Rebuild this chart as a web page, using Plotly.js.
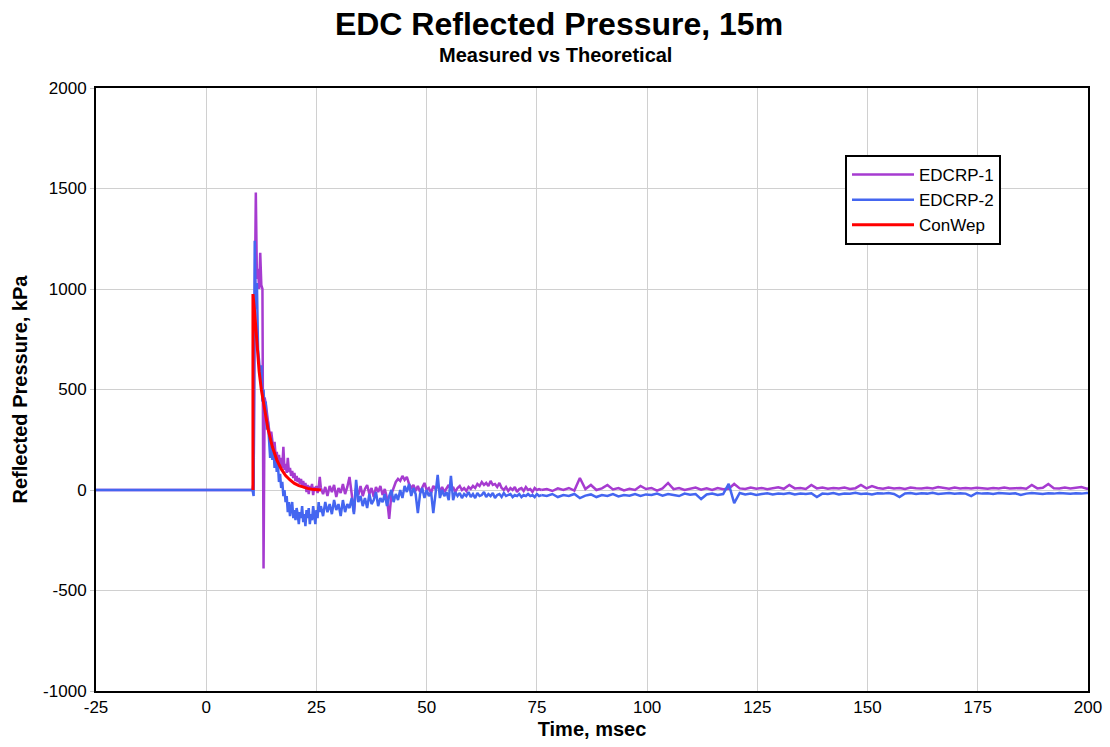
<!DOCTYPE html>
<html>
<head>
<meta charset="utf-8">
<script src="https://cdn.plot.ly/plotly-3.0.1.min.js"></script>
<style>html,body{margin:0;padding:0;background:#fff;}#chart{width:1110px;height:747px;}</style>
</head>
<body>
<div id="chart"></div>
<script>
// ---- Data ----
// Pre-arrival baseline (both gauges)
const preTime = [-25, 10.5];
const preValue = [0, 0];

// Sampling of the measured segments: start time (ms) and step (ms)
const earlyStart = 10.5, earlyStep = 0.25;   // 10.5 .. 26 ms
const midStart = 26, midStep = 0.5;          // 26 .. 76 ms
const lateStart = 76, lateStep = 1.25;       // 76 .. 201 ms

// EDCRP-1 (kPa)
const edcrp1Early = [0,40,900,1480,1050,1100,1000,1180,1020,1000,-390,460,430,380,360,300,
  260,290,230,200,240,170,190,140,175,120,160,110,215,100,130,85,160,90,110,70,95,60,85,45,
  70,40,60,30,55,20,45,10,35,-10,25,-20,20,0,30,-25,15,-5,20,-15,10,65,10];
const edcrp1Mid = [10,-20,15,-30,20,-10,25,-35,10,-15,30,-20,15,65,-20,-110,10,-25,20,-30,
  5,25,-20,10,-35,15,-10,20,-25,5,-40,-144,-20,10,40,55,45,70,50,65,30,10,25,-5,20,-10,15,35,
  0,10,-15,20,5,25,-5,15,-10,10,25,0,15,-10,10,20,0,10,-5,15,5,20,10,30,20,40,25,35,20,45,25,
  30,15,35,10,0,15,-5,10,0,15,-10,5,10,-5,15,0,5,-10,10,0,5,0];
const edcrp1Late = [0,5,-5,8,0,10,-3,60,5,25,0,8,25,3,10,-2,
  6,0,20,5,10,-3,8,35,4,10,0,6,12,2,8,0,
  10,4,6,30,8,5,12,6,10,4,9,14,6,25,8,10,
  5,25,8,12,6,10,7,12,5,9,25,8,20,10,6,12,
  8,10,5,12,9,7,11,8,15,9,6,12,8,10,7,11,
  9,6,10,8,12,7,9,10,6,25,8,11,30,9,7,12,
  8,10,15,6,10];

// EDCRP-2 (kPa)
const edcrp2Early = [0,-30,1240,900,1030,700,640,560,620,440,500,380,440,300,340,240,
  160,260,150,210,110,170,90,130,40,80,10,40,-30,0,-60,-30,-110,-60,-130,-90,-60,-140,-100,-150,
  -90,-120,-170,-110,-140,-80,-160,-120,-180,-100,-140,-90,-170,-120,-150,-80,-130,-170,-100,-140,-60,-110,-80];
const edcrp2Mid = [-80,-130,-60,-110,-70,-120,-50,-100,-70,-130,-50,-110,-70,-90,-40,-120,
  50,-60,-30,-80,-40,-90,-20,-70,-50,-10,-80,-40,-60,-20,-80,-30,0,-60,-20,-50,0,-40,20,-10,
  30,-30,10,-20,-115,-20,10,-40,0,-30,-10,-115,-20,75,-40,0,-30,-10,-50,70,-50,-10,-30,-15,-40,
  -20,-30,-10,-35,-20,-40,-15,-30,-25,-10,-35,-20,-30,-15,-40,-25,-20,-35,-15,-30,-25,-20,-35,
  -25,-30,-20,-35,-25,-30,-20,-30,-25,-35,-20,-30,-25];
const edcrp2Late = [-25,-30,-20,-35,-25,-30,-20,-40,-28,-22,-35,-25,-30,-20,-32,-25,
  -28,-20,-30,-22,-25,-18,-28,-20,-25,-30,-18,-24,-20,-45,-22,-18,
  -25,-20,30,-65,-15,-22,-18,-25,-20,-16,-22,-18,-20,-15,-22,-18,
  -20,-16,-35,-18,-20,-15,-22,-17,-19,-14,-20,-17,-22,-16,-18,-15,
  -20,-35,-17,-15,-20,-16,-18,-14,-20,-17,-15,-19,-16,-18,-30,-15,
  -18,-16,-20,-15,-17,-19,-16,-25,-18,-15,-17,-20,-16,-18,-15,-17,
  -19,-16,-18,-15,-17];

// ConWep theoretical (ms, kPa)
const conwepTime = [10.6,10.6,11,11.5,12,12.5,13,13.5,14,15,16,17,18,19,20,21,22,23,24,25,26];
const conwepValue = [0,975,880,740,590,500,430,360,305,215,150,105,72,50,33,22,14,8,4,1,0];

// Tick labels (plain hyphen minus as in the reference)
const xTickVals = [-25,0,25,50,75,100,125,150,175,200];
const xTickText = ['-25','0','25','50','75','100','125','150','175','200'];
const yTickVals = [-1000,-500,0,500,1000,1500,2000];
const yTickText = ['-1000','-500','0','500','1000','1500','2000'];

// ---- Styling ----
const purple = '#A63BD0';
const blue = '#4466F0';
const red = '#FF0000';
const fontFam = '"Liberation Sans", Arial, sans-serif';

function seg(color, name, group, show, extra) {
  return Object.assign({type:'scatter', mode:'lines', name:name, legendgroup:group,
    showlegend:show, line:{color:color, width:2.5}, hoverinfo:'skip'}, extra);
}

const traces = [
  seg(purple,'EDCRP-1','a',true,{x:preTime, y:preValue}),
  seg(purple,'EDCRP-1','a',false,{x0:earlyStart, dx:earlyStep, y:edcrp1Early}),
  seg(purple,'EDCRP-1','a',false,{x0:midStart, dx:midStep, y:edcrp1Mid}),
  seg(purple,'EDCRP-1','a',false,{x0:lateStart, dx:lateStep, y:edcrp1Late}),
  seg(blue,'EDCRP-2','b',true,{x:preTime, y:preValue}),
  seg(blue,'EDCRP-2','b',false,{x0:earlyStart, dx:earlyStep, y:edcrp2Early}),
  seg(blue,'EDCRP-2','b',false,{x0:midStart, dx:midStep, y:edcrp2Mid}),
  seg(blue,'EDCRP-2','b',false,{x0:lateStart, dx:lateStep, y:edcrp2Late}),
  {type:'scatter', mode:'lines', name:'ConWep', x:conwepTime, y:conwepValue,
   line:{color:red, width:3}, hoverinfo:'skip'}
];

const layout = {
  width:1110, height:747,
  margin:{l:96, r:22, t:88, b:56},
  paper_bgcolor:'#fff', plot_bgcolor:'#fff',
  font:{family:fontFam, color:'#000', size:16},
  title:{text:'<b>EDC Reflected Pressure, 15m</b>', font:{family:fontFam, size:32, color:'#000'},
    x:559/1110, xanchor:'center', y:1-24/747, yanchor:'middle', yref:'container', xref:'container'},
  annotations:[{text:'<b>Measured vs Theoretical</b>', xref:'paper', yref:'paper',
    x:(555-96)/992, y:(691-55)/603, xanchor:'center', yanchor:'middle', showarrow:false,
    font:{family:fontFam, size:20, color:'#000'}}],
  xaxis:{range:[-25,200], tickvals:xTickVals, ticktext:xTickText, showgrid:true, gridcolor:'#d0d0d0', gridwidth:1,
    zeroline:false, showline:true, mirror:true, linecolor:'#000', linewidth:2,
    ticks:'', tickfont:{family:fontFam, size:17, color:'#000'},
    title:{text:'<b>Time, msec</b>', font:{family:fontFam, size:20, color:'#000'}, standoff:6}},
  yaxis:{range:[-1000,2000], tickvals:yTickVals, ticktext:yTickText, showgrid:true, gridcolor:'#d0d0d0', gridwidth:1,
    zeroline:false, showline:true, mirror:true, linecolor:'#000', linewidth:2,
    ticks:'outside', ticklen:4, tickcolor:'#c8c8c8', tickfont:{family:fontFam, size:17, color:'#000'},
    title:{text:'<b>Reflected Pressure, kPa</b>', font:{family:fontFam, size:20, color:'#000'}, standoff:10}},
  showlegend:true,
  legend:{x:(845-96)/992, y:(691-155)/603, xanchor:'left', yanchor:'top',
    bgcolor:'#fff', bordercolor:'#000', borderwidth:2,
    font:{family:fontFam, size:17, color:'#000'}, itemwidth:62, tracegroupgap:0}
};

Plotly.newPlot('chart', traces, layout, {staticPlot:true, displayModeBar:false});
</script>
</body>
</html>
